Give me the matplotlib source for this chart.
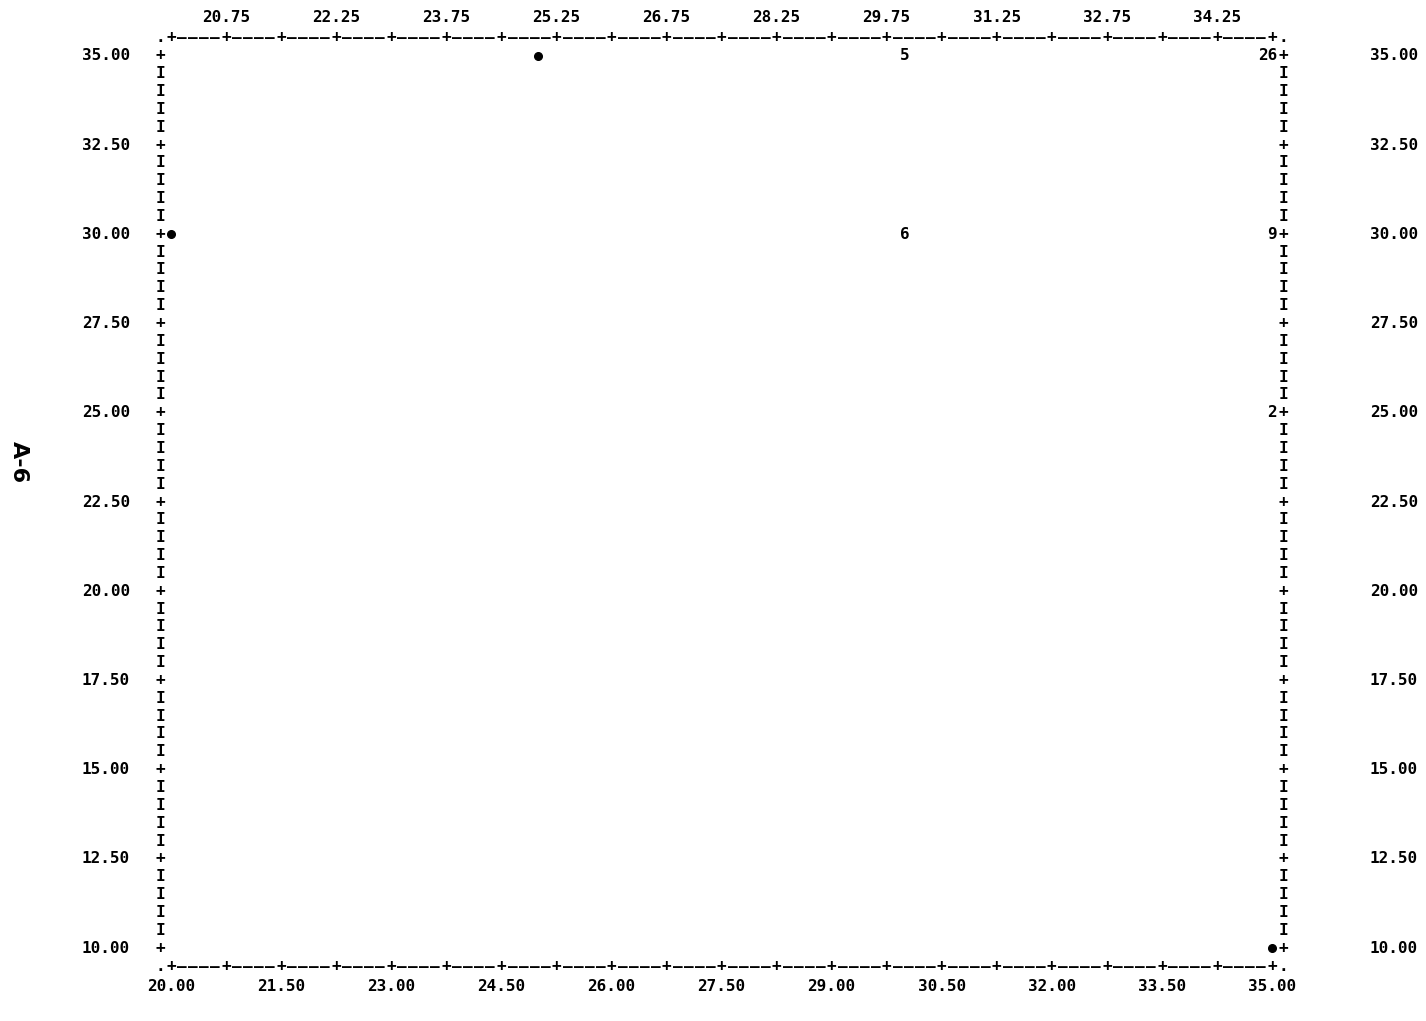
import matplotlib
matplotlib.use("Agg")
import matplotlib.pyplot as plt
import numpy as np

# rango de los ejes (grafico de impresora de lineas)
x_min, x_max = 20.0, 35.0
y_min, y_max = 10.0, 35.0

x_labels_bottom = ["20.00", "21.50", "23.00", "24.50", "26.00", "27.50",
                   "29.00", "30.50", "32.00", "33.50", "35.00"]
x_labels_top = ["20.75", "22.25", "23.75", "25.25", "26.75", "28.25",
                "29.75", "31.25", "32.75", "34.25"]
y_labels = ["10.00", "12.50", "15.00", "17.50", "20.00", "22.50",
            "25.00", "27.50", "30.00", "32.50", "35.00"]

# puntos marcados y su simbolo
pts_x = [25.0, 30.0, 35.0, 20.0, 30.0, 35.0, 35.0, 35.0]
pts_y = [35.0, 35.0, 35.0, 30.0, 30.0, 30.0, 25.0, 10.0]
pts_lbl = ["*", "5", "26", "*", "6", "9", "2", "*"]

col = 0.15   # ancho de una columna de la impresora
row = 0.5    # alto de una fila
x_step = 0.75
y_step = 2.5

mono = dict(family="DejaVu Sans Mono", weight="bold")
fs = 11.5

fig = plt.figure(figsize=(14.26, 10.21), dpi=100)
ax = fig.add_axes([160 / 1426, 55 / 1021, 1123 / 1426, 928 / 1021])
ax.set_xlim(x_min - col, x_max + col)
ax.set_ylim(y_min - row, y_max + row)
ax.axis("off")

# bordes superior e inferior
n_cols = int(round((x_max - x_min) / col)) + 2
for k in range(n_cols + 1):
    x = x_min - col + k * col
    if k == 0 or k == n_cols:
        ch = "."
    elif (k - 1) % int(round(x_step / col)) == 0:
        ch = "+"
    else:
        ch = "\u2013"
    for y in (y_min - row, y_max + row):
        ax.text(x, y, ch, ha="center", va="center", fontsize=fs, **mono)

# bordes laterales
n_rows = int(round((y_max - y_min) / row))
for k in range(n_rows + 1):
    y = y_min + k * row
    ch = "+" if k % int(round(y_step / row)) == 0 else "I"
    for x in (x_min - col, x_max + col):
        ax.text(x, y, ch, ha="center", va="center", fontsize=fs, **mono)

# etiquetas de los ejes
for lbl in y_labels:
    v = float(lbl)
    ax.annotate(lbl, (x_min - col, v), xytext=(-30, 0), textcoords="offset pixels",
                ha="right", va="center", fontsize=fs, **mono)
    ax.annotate(lbl, (x_max + col, v), xytext=(87, 0), textcoords="offset pixels",
                ha="left", va="center", fontsize=fs, **mono)
for lbl in x_labels_bottom:
    ax.annotate(lbl, (float(lbl), y_min - row), xytext=(0, -20), textcoords="offset pixels",
                ha="center", va="center", fontsize=fs, **mono)
for lbl in x_labels_top:
    ax.annotate(lbl, (float(lbl), y_max + row), xytext=(0, 20), textcoords="offset pixels",
                ha="center", va="center", fontsize=fs, **mono)

# puntos
for x, y, s in zip(pts_x, pts_y, pts_lbl):
    if s == "*":
        ax.plot(x, y, "o", color="black", markersize=5.5, clip_on=False)
    elif len(s) > 1:
        ax.text(x + col / 2, y, s, ha="right", va="center", fontsize=fs, **mono)
    else:
        ax.text(x, y, s, ha="center", va="center", fontsize=fs, **mono)

fig.text(19 / 1426, 1 - 462 / 1021, "A-6", rotation=-90, ha="center", va="center",
         fontsize=16, fontweight="bold")

fig.savefig("out.png", dpi=100)
